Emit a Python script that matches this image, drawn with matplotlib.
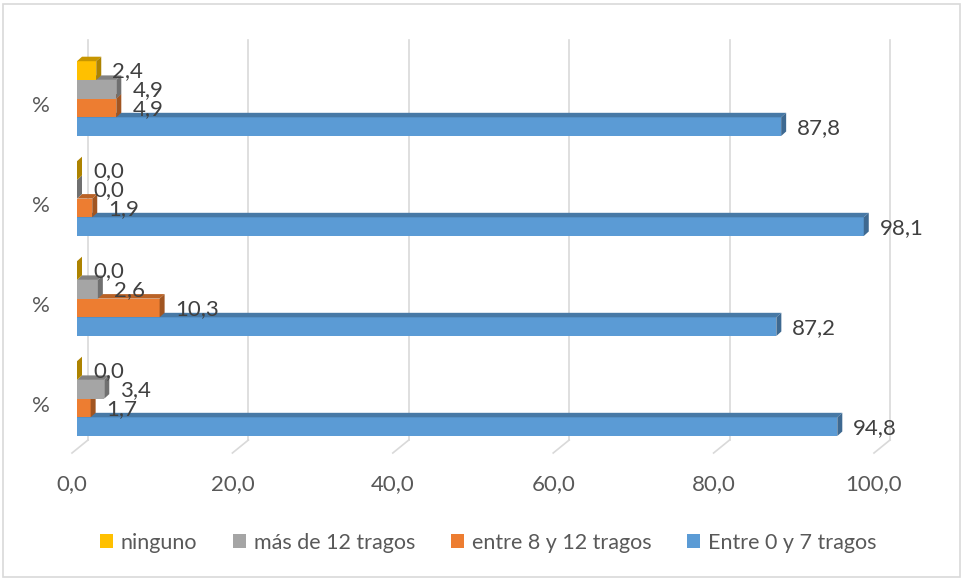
import matplotlib
matplotlib.use("Agg")
import matplotlib.pyplot as plt
from matplotlib.patches import Rectangle, Polygon, Patch
import numpy as np

plt.rcParams['font.family'] = ['Lato', 'DejaVu Sans']

# categories (bottom group first) and series values
categories = ['%', '%', '%', '%']
series_names = ['Entre 0 y 7 tragos', 'entre 8 y 12 tragos', 'más de 12 tragos', 'ninguno']
entre_0_7 = [94.8, 87.2, 98.1, 87.8]
entre_8_12 = [1.7, 10.3, 1.9, 4.9]
mas_de_12 = [3.4, 2.6, 0.0, 4.9]
ninguno = [0.0, 0.0, 0.0, 2.4]
series_values = [entre_0_7, entre_8_12, mas_de_12, ninguno]
x_ticks = [0, 20, 40, 60, 80, 100]

colors = ['#5B9BD5', '#ED7D31', '#A5A5A5', '#FFC000']

W, H, DPI = 963, 579, 100
fig = plt.figure(figsize=(W / DPI, H / DPI), dpi=DPI)

# plot area in pixels (x: value axis, y: pixel rows from the top)
left_px, right_px = 72, 874
top_px, floor_px = 40, 453
ax = fig.add_axes([left_px / W, (H - floor_px) / H,
                   (right_px - left_px) / W, (floor_px - top_px) / H])
ax.set_xlim(0, 100)
ax.set_ylim(floor_px, top_px)
px = 100.0 / (right_px - left_px)  # value units per pixel

# 3d depth settings
floor_dx, floor_dy = 16 * px, 13
bar_x0 = 5 * px
face_dx, face_dy = 5 * px, 4.5
bar_h = 18.7
pitch = 100
base0 = 436  # bottom edge of the lowest bar of the lowest group

grid_col = '#D9D9D9'
for t in x_ticks:
    ax.plot([t + floor_dx, t + floor_dx], [top_px, floor_px - floor_dy],
            color=grid_col, lw=1.2, zorder=1, clip_on=False)
    ax.plot([t + floor_dx, t], [floor_px - floor_dy, floor_px],
            color=grid_col, lw=1.2, zorder=1, clip_on=False)


def shade(c, f):
    rgb = np.array(matplotlib.colors.to_rgb(c))
    return tuple(rgb * f)


def draw_bar(v, y_bot, color, z):
    y_top = y_bot - bar_h
    x1 = bar_x0 + v
    ax.add_patch(Rectangle((bar_x0, y_top), v, bar_h, facecolor=color,
                           edgecolor='none', zorder=z, clip_on=False))
    ax.add_patch(Polygon([(bar_x0, y_top), (x1, y_top),
                          (x1 + face_dx, y_top - face_dy),
                          (bar_x0 + face_dx, y_top - face_dy)],
                         facecolor=shade(color, 0.78), edgecolor='none',
                         zorder=z, clip_on=False))
    ax.add_patch(Polygon([(x1, y_top), (x1, y_bot),
                          (x1 + face_dx, y_bot - face_dy),
                          (x1 + face_dx, y_top - face_dy)],
                         facecolor=shade(color, 0.68), edgecolor='none',
                         zorder=z, clip_on=False))


for g in range(len(categories)):
    base = base0 - g * pitch
    for s, vals in enumerate(series_values):
        y_bot = base - s * bar_h
        draw_bar(vals[g], y_bot, colors[s], 3 + g * 4 + s)

for g in range(len(categories)):
    base = base0 - g * pitch
    for s, vals in enumerate(series_values):
        y_mid = base - s * bar_h - bar_h / 2
        ax.text(bar_x0 + vals[g] + 16 * px, y_mid + 1,
                f"{vals[g]:.1f}".replace('.', ','),
                ha='left', va='center', fontsize=16, color='#404040',
                zorder=50, clip_on=False)

ax.set_xticks(x_ticks)
ax.set_xticklabels([f"{t:.1f}".replace('.', ',') for t in x_ticks])
ax.set_yticks([base0 - g * pitch - 31.5 for g in range(len(categories))])
ax.set_yticklabels(categories)
ax.tick_params(axis='x', length=0, pad=15, labelsize=16, labelcolor='#595959')
ax.tick_params(axis='y', length=0, pad=16, labelsize=16, labelcolor='#595959')
for sp in ax.spines.values():
    sp.set_visible(False)
ax.set_facecolor('none')

handles = [Patch(facecolor=colors[s], edgecolor='none', label=series_names[s])
           for s in range(3, -1, -1)]
fig.legend(handles=handles, loc='center', bbox_to_anchor=(488 / W, 1 - 543 / H),
           ncol=4, frameon=False, fontsize=15.5, labelcolor='#595959',
           handlelength=0.62, handleheight=0.62, handletextpad=0.35,
           columnspacing=1.65, borderaxespad=0)

fig.add_artist(Rectangle((3 / W, 2 / H), 957 / W, 573 / H, transform=fig.transFigure,
                         facecolor='none', edgecolor='#D9D9D9', lw=1.2))

fig.savefig('out.png', dpi=DPI)
